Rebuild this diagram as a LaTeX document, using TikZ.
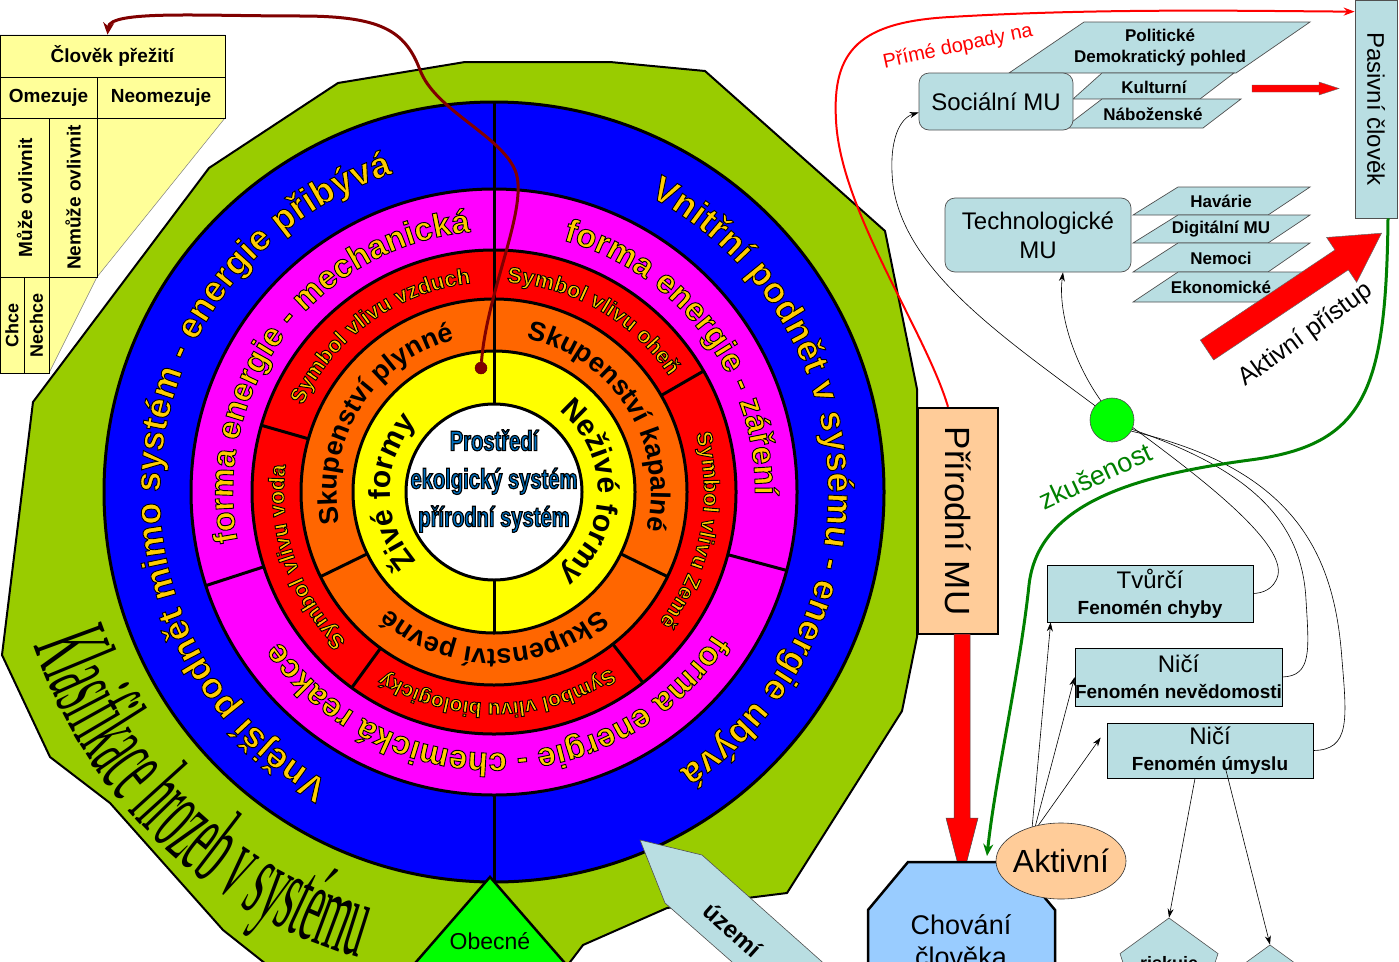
\documentclass[tikz,border=0pt]{standalone}
\usepackage{fontspec}
\setmainfont{Liberation Sans}
\newfontfamily\condfont[FakeStretch=0.72]{Liberation Sans}
\newfontfamily\klasfont[FakeStretch=0.36]{Liberation Serif}
\usetikzlibrary{decorations.text,shapes.geometric,arrows.meta,calc}
\definecolor{cblue}{HTML}{0000FF}
\definecolor{cmag}{HTML}{FF00FF}
\definecolor{cred}{HTML}{FF0000}
\definecolor{corange}{HTML}{FF6600}
\definecolor{cyellow}{HTML}{FFFF00}
\definecolor{cgreen}{HTML}{99CC00}
\definecolor{tyel}{HTML}{FFCC00}
\definecolor{lblue}{HTML}{B9DEE2}
\definecolor{peach}{HTML}{FFCC99}
\definecolor{chovc}{HTML}{99CCFF}
\definecolor{tabyel}{HTML}{FFFF99}
\definecolor{brownc}{HTML}{800000}
\definecolor{dgreen}{HTML}{008000}
\definecolor{bgreen}{HTML}{00FF00}
\definecolor{pblue}{HTML}{0070C0}
\definecolor{bord}{HTML}{505050}
% outlined text via PDF text render mode (fill + stroke)
\newcommand\olstroke{\special{pdf:literal direct 0 G}}
\newcommand\olon[1]{\special{pdf:literal direct 2 Tr #1 w}}
\newcommand\oloff{\special{pdf:literal direct 0 Tr 0.4 w}}
\newcommand\fBlue{\fontsize{36}{36}\selectfont\bfseries\color{tyel}\olstroke}
\newcommand\fMag{\fontsize{33}{33}\selectfont\bfseries\color{tyel}\olstroke}
\newcommand\fRed{\fontsize{22}{22}\selectfont\bfseries\color{tyel}\olstroke}
\newcommand\fRedS{\fontsize{21}{21}\selectfont\bfseries\color{tyel}\olstroke}
\newcommand\fOr{\fontsize{27}{27}\selectfont\bfseries\color{black}}
\newcommand\fYel{\fontsize{30}{30}\selectfont\bfseries\color{black}}
\newcommand\fKlas{\fontsize{110}{110}\selectfont\klasfont\color{black}}
\newcommand\arctext[5]{\path[decorate,decoration={text along path,text align=center,text={|#4|#5}}] ($(C)+(#2:#1)$) arc[start angle=#2,end angle=#3,radius=#1];}
\newcommand\arctextO[5]{\olon{0.9}\arctext{#1}{#2}{#3}{#4}{#5}\oloff}
\begin{document}
\begin{tikzpicture}[x=1pt,y=1pt,
  lb/.style={fill=lblue,draw=bord,line width=0.7pt},
  cell/.style={draw=black,line width=0.8pt,fill=tabyel,inner sep=0pt,font=\bfseries\fontsize{19}{19}\selectfont},
  conn/.style={draw=black,line width=0.6pt},
  arr/.style={conn,-{Stealth[length=9pt,width=6pt]}},
  plab/.style={font=\bfseries\fontsize{17}{21}\selectfont,align=center,inner sep=0pt},
  fbox/.style={fill=lblue,draw=black,line width=0.7pt,inner sep=0pt,align=center,font=\bfseries\fontsize{19}{26}\selectfont}
]
\useasboundingbox (0,0) rectangle (1399,-961);
\clip (0,0) rectangle (1399,-961);
\coordinate (C) at (494,-492);

% green polygon
\filldraw[fill=cgreen,draw=black,line width=2pt] (209,-168) -- (338,-83) -- (465,-62) -- (610,-62) -- (705,-71) -- (885,-231) -- (917,-389) -- (917,-637) -- (902,-711) -- (787,-893) -- (667,-908) -- (583,-945) -- (545,-995) -- (305,-995) -- (223,-930) -- (110,-803) -- (50,-757) -- (2,-655) -- (33,-402) -- cycle;

% rings
\foreach \r/\c in {390/cblue,303/cmag,242/cred,193/corange,141/cyellow,88/white}
  \filldraw[fill=\c,draw=black,line width=3pt] (C) circle[radius=\r];
\foreach \a/\ri/\ro in {90/303/390,270/303/390,90/242/303,-15/242/303,198/242/303,90/193/242,30/193/242,-52/193/242,234/193/242,164/193/242,90/141/193,-26/141/193,206/141/193,90/88/141,270/88/141}
  \draw[line width=3pt] ($(C)+(\a:\ri)$) -- ($(C)+(\a:\ro)$);

% ring texts
\arctextO{334}{262}{86}{\fBlue}{Vnější podnět mimo systém - energie přibývá}
\arctextO{334}{90}{-84}{\fBlue}{Vnitřní podnět v sysému - energie ubývá}
\arctextO{261}{196}{90}{\fMag}{forma energie - mechanická}
\arctextO{261}{89}{-15}{\fMag}{forma energie - záření}
\arctextO{261}{-16}{-162}{\fMag}{forma energie - chemická reakce}
\arctextO{210}{162}{90}{\fRed}{Symbol vlivu vzduch}
\arctextO{210}{89}{31}{\fRed}{Symbol vlivu oheň}
\arctextO{210}{29}{-51}{\fRed}{Symbol vlivu Země}
\arctextO{211}{-53}{-125}{\fRedS}{Symbol vlivu biologický}
\arctextO{210}{233}{165}{\fRed}{Symbol vlivu voda}
\arctext{157}{205}{91}{\fOr}{Skupenství plynné}
\arctext{157}{89}{-25}{\fOr}{Skupenství kapalné}
\arctext{157}{-27}{-153}{\fOr}{Skupenství pevné}
\arctext{104}{268}{92}{\fYel}{Živé formy}
\arctext{104}{88}{-88}{\fYel}{Neživé formy}

\node[text=pblue,font=\condfont\bfseries\fontsize{28}{38}\selectfont,align=center,inner sep=0pt] (prostr) at (494,-481) {\olstroke\olon{1.1}Prostředí\\\olstroke ekolgický systém\\\olstroke přírodní systém\oloff};

% Klasifikace
\path[decorate,decoration={text along path,text align=left,text={|\fKlas|Klasifikace hrozeb v systému}}] ($(C)+(198.5:485)$) arc[start angle=198.5,end angle=285,radius=485];

% bottom shapes
\filldraw[fill=bgreen,draw=black,line width=2.5pt] (490,-877) -- (383,-1000) -- (597,-1000) -- cycle;
\node[font=\fontsize{23}{23}\selectfont] (obec) at (490,-941) {Obecné};
\filldraw[fill=lblue,draw=bord,line width=0.6pt] (640,-840) -- (702,-855) -- (829,-968) -- (740,-969) -- (665,-903) -- cycle;
\node[rotate=-42,font=\bfseries\fontsize{24}{24}\selectfont] (uz) at (733,-930) {území};

% table
\filldraw[fill=tabyel,draw=gray,line width=0.5pt] (0,-35) -- (225,-35) -- (225,-118) -- (97,-277) -- (49,-373) -- (0,-373) -- cycle;
\node[cell,minimum width=225pt,minimum height=42pt] (clovek) at (112.5,-56) {Člověk přežití};
\node[cell,minimum width=97pt,minimum height=41pt] (omez) at (48.5,-97.5) {Omezuje};
\node[cell,minimum width=128pt,minimum height=41pt] (neom) at (161,-97.5) {Neomezuje};
\node[cell,minimum width=49pt,minimum height=159pt] (muze) at (24.5,-197.5) {\rotatebox{90}{Může ovlivnit}};
\node[cell,minimum width=48pt,minimum height=159pt] (nemuze) at (73,-197.5) {\rotatebox{90}{Nemůže ovlivnit}};
\node[cell,minimum width=24pt,minimum height=96pt,font=\bfseries\fontsize{18}{18}\selectfont] (chce) at (12,-325) {\rotatebox{90}{Chce}};
\node[cell,minimum width=25pt,minimum height=96pt,font=\bfseries\fontsize{18}{18}\selectfont] (nechce) at (36.5,-325) {\rotatebox{90}{Nechce}};

% brown arrow
\node[circle,fill=brownc,draw=brownc!70!black,minimum size=12pt,inner sep=0pt] (dot) at (481,-368) {};
\draw[brownc,line width=3pt,-{Stealth[length=12pt,width=11pt]}] (dot) .. controls (487,-290) and (530,-205) .. (515,-170) .. controls (500,-135) and (435,-110) .. (420,-70) .. controls (405,-30) and (380,-16) .. (300,-16) .. controls (200,-16) and (110,-10) .. ([xshift=-5pt]clovek.north);

% right side: parallelograms
\filldraw[lb] (1009,-73) -- (1236,-73) -- (1310,-22) -- (1084,-22) -- cycle;
\node[plab] (pol) at (1160,-48) {Politické\\Demokratický pohled};
\filldraw[lb] (1073,-99) -- (1200,-99) -- (1234,-73) -- (1102,-73) -- cycle;
\node[plab] (kul) at (1154,-87) {Kulturní};
\filldraw[lb] (1064,-128) -- (1203,-128) -- (1241,-99) -- (1102,-99) -- cycle;
\node[plab] (nab) at (1153,-114) {Náboženské};
\node[lb,rounded corners=10pt,minimum width=154pt,minimum height=57pt,font=\fontsize{24}{24}\selectfont] (soc) at (996,-101.5) {Sociální MU};

\filldraw[lb] (1133,-215) -- (1268,-215) -- (1310,-187) -- (1178,-187) -- cycle;
\node[plab] (hav) at (1221,-201) {Havárie};
\filldraw[lb] (1133,-243) -- (1268,-243) -- (1310,-215) -- (1178,-215) -- cycle;
\node[plab] (dig) at (1221,-229) {Digitální MU};
\filldraw[lb] (1133,-272) -- (1268,-272) -- (1310,-243) -- (1178,-243) -- cycle;
\node[plab] (nem) at (1221,-258) {Nemoci};
\filldraw[lb] (1133,-302) -- (1268,-302) -- (1310,-272) -- (1178,-272) -- cycle;
\node[plab] (eko) at (1221,-287) {Ekonomické};
\node[lb,rounded corners=10pt,minimum width=186pt,minimum height=74pt,align=center,font=\fontsize{24}{29}\selectfont] (tech) at (1038,-235) {Technologické\\MU};

% red arrows
\filldraw[fill=cred,draw=black!60,line width=0.4pt] (1252,-85) -- (1319,-85) -- (1319,-82) -- (1339,-88.5) -- (1319,-95) -- (1319,-92) -- (1252,-92) -- cycle;
\begin{scope}[shift={(1207,-350)},rotate=33.8]
\filldraw[fill=cred,draw=black!60,line width=0.5pt] (0,12) -- (162,12) -- (162,27) -- (210,0) -- (162,-27) -- (162,-12) -- (0,-12) -- cycle;
\end{scope}
\node[rotate=36,font=\fontsize{25}{25}\selectfont] (aktp) at (1306,-335) {Aktivní přístup};

\node[lb,minimum width=42pt,minimum height=218pt,inner sep=0pt,font=\fontsize{24}{24}\selectfont] (pas) at (1376,-109) {\rotatebox{-90}{Pasivní člověk}};

% Prirodni MU and Chovani
\node[draw=black,line width=2.5pt,fill=peach,minimum width=80pt,minimum height=226pt,inner sep=0pt,font=\fontsize{35}{35}\selectfont] (prir) at (958,-521) {\rotatebox{-90}{Přírodní MU}};
\filldraw[fill=cred,draw=black!70,line width=0.5pt] (954,-634) -- (970,-634) -- (970,-818) -- (978,-818) -- (962,-880) -- (946,-818) -- (954,-818) -- cycle;
\filldraw[fill=chovc,draw=black,line width=2.5pt] (868,-1000) -- (868,-910) -- (908,-862) -- (1015,-862) -- (1055,-910) -- (1055,-1000);
\node[font=\fontsize{27}{32}\selectfont,align=center] (chovt) at (961,-941) {Chování\\člověka};
\coordinate (chovtop) at (987,-856);

% phenomenon boxes
\node[fbox,minimum width=206pt,minimum height=57pt] (tv) at (1150,-593.5) {{\mdseries\fontsize{24}{26}\selectfont Tvůrčí}\\Fenomén chyby};
\node[fbox,minimum width=207pt,minimum height=58pt] (nev) at (1178.5,-677) {{\mdseries\fontsize{24}{26}\selectfont Ničí}\\\makebox[150pt][c]{Fenomén nevědomosti}};
\node[fbox,minimum width=206pt,minimum height=55pt] (um) at (1210,-750.5) {{\mdseries\fontsize{24}{26}\selectfont Ničí}\\Fenomén úmyslu};

\node[regular polygon,regular polygon sides=5,minimum size=103pt,inner sep=0pt,fill=lblue,draw=bord,line width=0.6pt] (p1) at (1169,-969.5) {};
\node[font=\bfseries\fontsize{18}{18}\selectfont] (p1t) at (1169,-965) {riskuje};
\node[regular polygon,regular polygon sides=5,minimum size=103pt,inner sep=0pt,fill=lblue,draw=bord,line width=0.6pt] (p2) at (1270,-996.5) {};

\node[ellipse,fill=peach,draw=black!80,line width=0.6pt,minimum width=130pt,minimum height=76pt,inner sep=0pt] (akt) at (1061,-861) {};
\node[font=\fontsize{32}{32}\selectfont] (aktt) at (1061,-861) {Aktivní};

\node[circle,fill=bgreen,draw=black!70,line width=0.6pt,minimum size=44pt,inner sep=0pt] (gc) at (1112,-420) {};

% connectors
\draw[arr] (gc.140) .. controls (1000,-335) and (905,-270) .. (893,-185) .. controls (888,-140) and (900,-118) .. ([yshift=-11pt]soc.west);
\draw[arr] (gc.120) .. controls (1072,-360) and (1058,-310) .. ([xshift=25pt]tech.south);
\draw[conn] (gc.-20) .. controls (1190,-470) and (1285,-540) .. (1278,-575) .. controls (1274,-590) and (1262,-593) .. (tv.east);
\draw[conn] (gc.-25) .. controls (1250,-470) and (1302,-520) .. (1306,-600) .. controls (1309,-650) and (1312,-676) .. (nev.east);
\draw[conn] (gc.-30) .. controls (1300,-470) and (1335,-560) .. (1342,-660) .. controls (1347,-720) and (1350,-750) .. (um.east);
\draw[arr] (akt.130) -- ([xshift=4pt]tv.south west);
\draw[arr] (akt.126) -- (nev.west);
\draw[arr] (akt.122) -- ([shift={(-6pt,13pt)}]um.west);
\draw[arr] ([xshift=-15pt]um.south) -- (p1.north);
\draw[arr] ([shift={(16pt,8pt)}]um.south) -- (p2.north);

\draw[cred,line width=2pt,-{Stealth[length=11pt,width=8pt]}] ([xshift=-10pt]prir.north) .. controls (925,-330) and (840,-210) .. (836,-120) .. controls (832,-50) and (860,-22) .. (950,-17) .. controls (1100,-8) and (1250,-11) .. ([yshift=-12pt]pas.north west);
\node[rotate=12,text=cred,font=\fontsize{20}{20}\selectfont] (prime) at (958,-47) {Přímé dopady na};

\draw[dgreen,line width=3pt,-{Stealth[length=12pt,width=10pt]}] ([xshift=12pt]pas.south) .. controls (1386,-392) and (1365,-445) .. (1250,-460) .. controls (1130,-476) and (1038,-505) .. (1029,-585) .. controls (1020,-670) and (995,-780) .. (chovtop);
\node[rotate=25,text=dgreen,font=\fontsize{27}{27}\selectfont] (zk) at (1095,-476) {zkušenost};
\end{tikzpicture}
\end{document}
